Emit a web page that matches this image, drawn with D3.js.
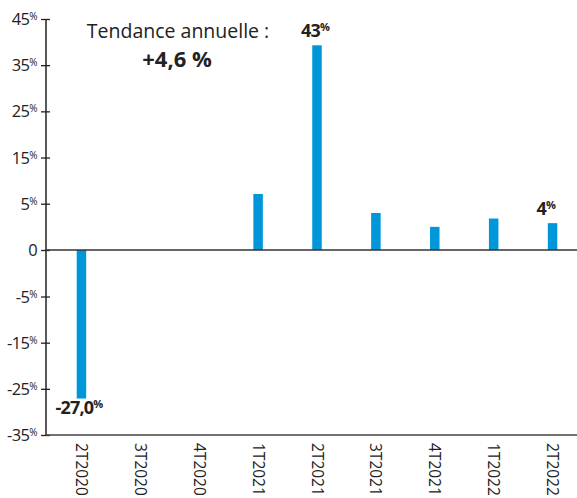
<!DOCTYPE html>
<html>
<head>
<meta charset="utf-8">
<script src="https://cdn.jsdelivr.net/npm/d3@7"></script>
<style>
  body { margin: 0; background: #fff; }
  text { font-family: "Open Sans", sans-serif; fill: #222; }
</style>
</head>
<body>
<svg id="chart"></svg>
<script>
const width = 577;
const height = 498;

// data
const quarters = ['2T2020', '3T2020', '4T2020', '1T2021', '2T2021', '3T2021', '4T2021', '1T2022', '2T2022'];
const growth = [-27.1, null, null, 7.1, 39.3, 4.0, 2.5, 3.4, 2.9];
const tickValues = [45, 35, 25, 15, 5, 0, -5, -15, -25, -35];
const barLabels = [
  { q: '2T2020', num: '-27,0', pos: 'below' },
  { q: '2T2021', num: '43', pos: 'above' },
  { q: '2T2022', num: '4', pos: 'above' },
];

const axisX = 46;
const barWidth = 9.5;

const svg = d3.select('#chart')
  .attr('width', width)
  .attr('height', height);

// axis ticks are evenly spaced although the step around zero is half the others
const y = d3.scaleLinear()
  .domain([-35, -5, 0, 5, 45])
  .range([435, 296.5, 250, 203.7, 19]);

const x = d3.scaleBand()
  .domain(quarters)
  .range([52, 582]);

// ===========================================================================
//      bars
// ===========================================================================
svg.append('g')
  .selectAll('rect')
  .data(quarters.map((q, i) => ({ q, v: growth[i] })).filter(d => d.v !== null))
  .enter()
  .append('rect')
  .attr('x', d => x(d.q) + x.bandwidth() / 2 - barWidth / 2)
  .attr('y', d => y(Math.max(0, d.v)))
  .attr('width', barWidth)
  .attr('height', d => Math.abs(y(d.v) - y(0)))
  .attr('fill', '#0097da');

// ===========================================================================
//      axes
// ===========================================================================
const yAxis = svg.append('g')
  .attr('transform', `translate(${axisX},0)`)
  .call(d3.axisLeft(y).tickValues(tickValues).tickSize(5).tickFormat(''));
yAxis.select('.domain').remove();
yAxis.selectAll('.tick line')
  .attr('x1', -5).attr('x2', 4)
  .attr('stroke', '#222').attr('stroke-width', 1.3);

svg.append('line')
  .attr('x1', axisX).attr('x2', axisX)
  .attr('y1', y(45)).attr('y2', y(-35))
  .attr('stroke', '#222').attr('stroke-width', 1.5);

svg.append('line')
  .attr('x1', axisX).attr('x2', width)
  .attr('y1', y(0)).attr('y2', y(0))
  .attr('stroke', '#333').attr('stroke-width', 1.5);

svg.append('line')
  .attr('x1', axisX).attr('x2', width)
  .attr('y1', y(-35)).attr('y2', y(-35))
  .attr('stroke', '#444').attr('stroke-width', 1.5);

// tick labels with small raised percent sign
const tickLabels = svg.append('g').selectAll('text')
  .data(tickValues)
  .enter()
  .append('text')
  .attr('x', 37)
  .attr('y', d => y(d) + 6)
  .attr('text-anchor', 'end')
  .style('font-size', '16.5px')
  .style('letter-spacing', '-0.6px');
tickLabels.append('tspan').text(d => d);
tickLabels.filter(d => d !== 0)
  .append('tspan')
  .attr('dy', -5)
  .style('font-size', '10px')
  .text('%');

// x labels, rotated
svg.append('g').selectAll('text')
  .data(quarters)
  .enter()
  .append('text')
  .attr('transform', d => `translate(${x(d) + x.bandwidth() / 2 - 5.5},443) rotate(90)`)
  .style('font-size', '15.5px')
  .text(d => d);

// ===========================================================================
//      value labels
// ===========================================================================
const vl = svg.append('g').selectAll('text')
  .data(barLabels)
  .enter()
  .append('text')
  .attr('x', d => x(d.q) + x.bandwidth() / 2 + (d.pos === 'below' ? -26 : -16))
  .attr('y', d => {
    const v = growth[quarters.indexOf(d.q)];
    return d.pos === 'below' ? y(v) + 15 : y(v) - 8;
  })
  .style('font-size', '18px')
  .style('font-weight', 700)
  .style('letter-spacing', '-0.8px');
vl.append('tspan').text(d => d.num);
vl.append('tspan')
  .attr('dy', -6)
  .style('font-size', '11px')
  .text('%');

// annotation
svg.append('text')
  .attr('x', 178)
  .attr('y', 38)
  .attr('text-anchor', 'middle')
  .style('font-size', '19.5px')
  .style('font-weight', 500)
  .text('Tendance annuelle :');

svg.append('text')
  .attr('x', 177)
  .attr('y', 67)
  .attr('text-anchor', 'middle')
  .style('font-size', '22px')
  .style('font-weight', 700)
  .text('+4,6 %');
</script>
</body>
</html>
